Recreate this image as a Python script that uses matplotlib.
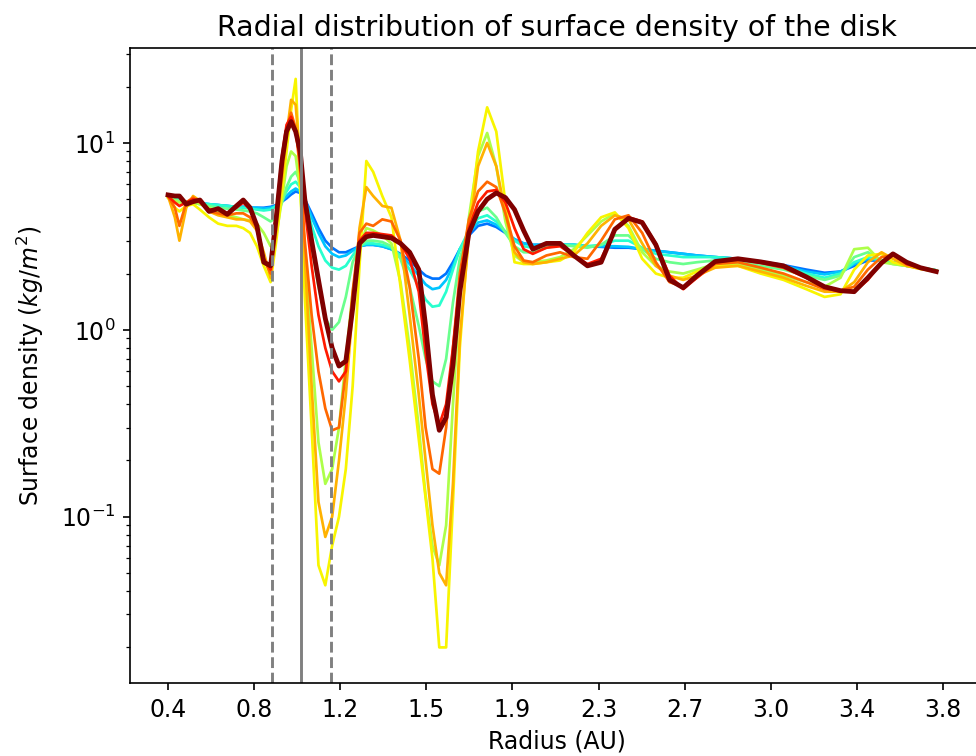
import numpy as np
import matplotlib.pyplot as plt
from matplotlib import cm

plt.rcParams['font.size'] = 11.3

# Радиусы (а.е.)
r_au = [0.40, 0.43, 0.45, 0.48, 0.51, 0.54, 0.58, 0.62, 0.66, 0.70,
        0.73, 0.76, 0.79, 0.82, 0.85, 0.875, 0.90, 0.92, 0.94, 0.96,
        0.98, 1.00, 1.03, 1.06, 1.09, 1.12, 1.15, 1.18, 1.21, 1.24,
        1.27, 1.30, 1.34, 1.38, 1.42, 1.46, 1.50, 1.53, 1.56, 1.59,
        1.62, 1.65, 1.68, 1.72, 1.76, 1.80, 1.84, 1.88, 1.92, 1.96,
        2.00, 2.06, 2.12, 2.18, 2.24, 2.30, 2.36, 2.42, 2.48, 2.54,
        2.60, 2.66, 2.72, 2.80, 2.90, 3.00, 3.10, 3.20, 3.28, 3.35,
        3.41, 3.47, 3.53, 3.58, 3.64, 3.70, 3.77]

# Поверхностная плотность для каждого снимка (кг/м^2)
sigma_1 = [5.2, 5.0, 4.95, 4.85, 4.8, 4.75, 4.7, 4.65, 4.6, 4.55,
           4.55, 4.5, 4.5, 4.5, 4.55, 4.65, 4.85, 5.05, 5.3, 5.5,
           5.4, 5.0, 4.2, 3.5, 3.0, 2.75, 2.6, 2.6, 2.7, 2.8,
           2.85, 2.85, 2.8, 2.7, 2.55, 2.35, 2.1, 1.95, 1.88, 1.88,
           2.0, 2.3, 2.7, 3.2, 3.6, 3.7, 3.55, 3.3, 3.05, 2.9,
           2.85, 2.85, 2.85, 2.85, 2.8, 2.78, 2.75, 2.75, 2.7, 2.65,
           2.6, 2.55, 2.5, 2.45, 2.4, 2.32, 2.22, 2.1, 2.02, 2.05,
           2.2, 2.35, 2.35, 2.3, 2.22, 2.15, 2.08]
sigma_2 = [5.2, 5.0, 4.95, 4.85, 4.8, 4.75, 4.7, 4.65, 4.6, 4.55,
           4.55, 4.5, 4.5, 4.45, 4.5, 4.6, 4.9, 5.2, 5.5, 5.7,
           5.5, 5.0, 4.0, 3.3, 2.8, 2.55, 2.45, 2.5, 2.65, 2.8,
           2.85, 2.85, 2.8, 2.7, 2.5, 2.25, 1.95, 1.75, 1.65, 1.68,
           1.85, 2.2, 2.7, 3.3, 3.75, 3.85, 3.65, 3.35, 3.05, 2.9,
           2.85, 2.85, 2.85, 2.85, 2.8, 2.8, 2.8, 2.78, 2.7, 2.65,
           2.6, 2.55, 2.5, 2.45, 2.4, 2.32, 2.2, 2.05, 1.98, 2.05,
           2.25, 2.4, 2.35, 2.28, 2.2, 2.15, 2.08]
sigma_3 = [5.2, 5.0, 4.95, 4.85, 4.8, 4.75, 4.7, 4.65, 4.6, 4.55,
           4.5, 4.45, 4.4, 4.35, 4.4, 4.6, 5.0, 5.5, 6.0, 6.2,
           5.8, 5.0, 3.6, 2.8, 2.35, 2.15, 2.1, 2.2, 2.5, 2.8,
           2.9, 2.9, 2.85, 2.75, 2.5, 2.1, 1.7, 1.45, 1.33, 1.35,
           1.6, 2.1, 2.7, 3.4, 3.95, 4.1, 3.8, 3.35, 3.0, 2.8,
           2.75, 2.8, 2.85, 2.85, 2.8, 2.85, 3.0, 3.0, 2.75, 2.55,
           2.5, 2.45, 2.45, 2.45, 2.4, 2.3, 2.18, 2.0, 1.9, 2.0,
           2.3, 2.45, 2.35, 2.28, 2.2, 2.15, 2.08]
sigma_4 = [5.2, 5.0, 4.9, 4.85, 4.8, 4.7, 4.6, 4.5, 4.45, 4.4,
           4.35, 4.3, 4.2, 4.0, 3.8, 4.0, 4.8, 5.8, 6.6, 7.0,
           6.2, 4.8, 2.8, 1.7, 1.15, 1.0, 1.1, 1.5, 2.3, 2.8,
           3.0, 3.0, 2.95, 2.8, 2.4, 1.7, 1.05, 0.7, 0.53, 0.5,
           0.7, 1.4, 2.4, 3.5, 4.3, 4.5, 4.0, 3.3, 2.8, 2.6,
           2.6, 2.75, 2.85, 2.8, 2.75, 2.85, 3.2, 3.2, 2.7, 2.4,
           2.3, 2.25, 2.3, 2.35, 2.3, 2.2, 2.1, 1.95, 1.85, 1.95,
           2.45, 2.6, 2.35, 2.25, 2.2, 2.15, 2.08]
sigma_5 = [5.1, 4.9, 4.8, 4.8, 4.8, 4.7, 4.5, 4.3, 4.1, 4.0,
           3.9, 3.85, 3.7, 3.3, 2.8, 3.2, 5.0, 7.5, 9.0, 8.5,
           5.5, 2.5, 0.8, 0.25, 0.15, 0.18, 0.3, 0.7, 1.6, 2.8,
           3.5, 3.4, 3.2, 2.9, 1.8, 0.8, 0.3, 0.13, 0.07, 0.055,
           0.09, 0.4, 1.5, 4.0, 8.5, 11.3, 7.5, 3.8, 2.5, 2.3,
           2.3, 2.35, 2.45, 2.7, 3.2, 3.8, 4.2, 3.6, 2.6, 2.2,
           2.05, 2.0, 2.1, 2.25, 2.25, 2.1, 1.95, 1.8, 1.7, 1.9,
           2.7, 2.75, 2.3, 2.25, 2.2, 2.15, 2.08]
sigma_6 = [5.1, 4.5, 4.3, 4.6, 4.7, 4.4, 4.0, 3.7, 3.6, 3.6,
           3.5, 3.3, 2.8, 2.2, 1.8, 3.0, 5.5, 9.0, 15.0, 22.0,
           6.0, 1.5, 0.3, 0.055, 0.043, 0.07, 0.1, 0.18, 0.5, 2.2,
           8.0, 7.0, 5.2, 4.0, 1.7, 0.69, 0.26, 0.126, 0.06, 0.02,
           0.02, 0.12, 0.8, 3.5, 9.0, 15.5, 11.5, 4.8, 2.3, 2.25,
           2.25, 2.3, 2.35, 2.6, 3.3, 4.0, 4.25, 3.5, 2.4, 2.0,
           1.9, 1.9, 2.05, 2.2, 2.2, 2.0, 1.85, 1.65, 1.5, 1.55,
           2.1, 2.5, 2.55, 2.3, 2.2, 2.12, 2.05]
sigma_7 = [5.2, 4.0, 3.0, 4.5, 5.2, 4.9, 4.3, 4.1, 4.0, 3.9,
           3.9, 3.8, 3.4, 2.6, 1.9, 3.4, 6.5, 11.0, 17.0, 16.0,
           8.0, 2.5, 0.5, 0.12, 0.078, 0.1, 0.2, 0.45, 1.3, 3.5,
           5.8, 5.2, 4.6, 4.5, 3.0, 1.2, 0.45, 0.2, 0.09, 0.05,
           0.043, 0.15, 0.9, 3.2, 7.5, 10.0, 7.5, 4.2, 2.6, 2.3,
           2.25, 2.3, 2.4, 2.5, 2.9, 3.6, 4.1, 3.9, 2.9, 2.2,
           1.95, 1.85, 1.95, 2.15, 2.2, 2.05, 1.9, 1.72, 1.6, 1.6,
           1.8, 2.3, 2.6, 2.4, 2.2, 2.12, 2.05]
sigma_8 = [5.2, 4.5, 3.6, 4.8, 5.1, 4.8, 4.3, 4.2, 4.1, 4.2,
           4.2, 4.0, 3.5, 2.4, 2.0, 3.8, 7.5, 12.0, 14.5, 12.0,
           7.0, 3.0, 1.2, 0.6, 0.38, 0.29, 0.3, 0.6, 1.6, 3.3,
           3.7, 3.6, 3.9, 3.8, 3.0, 1.7, 0.7, 0.3, 0.18, 0.17,
           0.3, 0.8, 2.0, 3.9, 5.5, 6.2, 5.8, 4.2, 2.8, 2.35,
           2.3, 2.5, 2.6, 2.45, 2.4, 3.0, 3.9, 4.1, 3.3, 2.3,
           1.8, 1.7, 1.9, 2.25, 2.3, 2.15, 2.0, 1.8, 1.65, 1.62,
           1.7, 2.1, 2.45, 2.5, 2.25, 2.15, 2.05]
sigma_9 = [5.2, 4.8, 4.6, 4.8, 5.0, 4.9, 4.4, 4.4, 4.2, 4.5,
           4.8, 4.4, 3.6, 2.4, 2.1, 4.2, 8.5, 12.5, 13.8, 11.5,
           8.0, 4.5, 2.2, 1.2, 0.8, 0.6, 0.53, 0.6, 1.3, 3.0,
           3.3, 3.3, 3.25, 3.2, 2.9, 2.4, 1.6, 0.75, 0.4, 0.31,
           0.4, 0.8, 1.8, 3.5, 4.8, 5.5, 5.6, 4.8, 3.5, 2.7,
           2.55, 2.75, 2.8, 2.5, 2.25, 2.4, 3.4, 4.0, 3.8, 2.9,
           1.95, 1.65, 1.9, 2.3, 2.38, 2.28, 2.15, 1.9, 1.68, 1.6,
           1.6, 1.85, 2.3, 2.55, 2.25, 2.15, 2.05]
sigma_10 = [5.27, 5.2, 5.2, 4.7, 4.85, 4.95, 4.3, 4.45, 4.15, 4.6,
            4.95, 4.5, 3.6, 2.3, 2.2, 4.0, 8.0, 11.5, 13.0, 11.5,
            9.0, 5.0, 3.0, 1.85, 1.15, 0.8, 0.64, 0.68, 1.3, 2.9,
            3.15, 3.2, 3.15, 3.1, 2.9, 2.6, 2.1, 1.05, 0.45, 0.29,
            0.34, 0.65, 1.6, 3.3, 4.3, 5.0, 5.4, 5.1, 4.4, 3.4,
            2.7, 2.9, 2.9, 2.5, 2.2, 2.3, 3.45, 3.95, 3.75, 2.85,
            1.85, 1.68, 1.95, 2.32, 2.4, 2.31, 2.2, 1.92, 1.7, 1.62,
            1.6, 1.9, 2.28, 2.55, 2.3, 2.15, 2.05]

snapshots = [sigma_1, sigma_2, sigma_3, sigma_4, sigma_5,
             sigma_6, sigma_7, sigma_8, sigma_9, sigma_10]
cmap_pos = [0.24, 0.32, 0.40, 0.48, 0.56, 0.65, 0.72, 0.80, 0.88, 1.0]

# Положение планеты и границы зоны (а.е.)
r_planet = 0.985
r_zone = [0.855, 1.115]

xtick_pos = np.linspace(0.4, 3.8, 10)
xtick_labels = ['0.4', '0.8', '1.2', '1.5', '1.9', '2.3', '2.7', '3.0', '3.4', '3.8']

fig = plt.figure(figsize=(976 / 150, 756 / 150), dpi=150)
ax = fig.add_axes([130 / 976, 73 / 756, 853 / 976, 635 / 756])

for sig, c in zip(snapshots, cmap_pos):
    lw = 2.3 if c == 1.0 else 1.3
    ax.plot(r_au, sig, color=cm.jet(c), lw=lw)

ax.axvline(r_planet, color='gray', lw=1.4)
for rz in r_zone:
    ax.axvline(rz, color='gray', lw=1.4, ls='--')

ax.set_yscale('log')
ax.set_xlim(0.2333, 3.975)
ax.set_ylim(0.0129, 32.2)
ax.set_xticks(xtick_pos)
ax.set_xticklabels(xtick_labels)
ax.set_xlabel('Radius (AU)')
ax.set_ylabel('Surface density ($kg/m^2$)', labelpad=7)
ax.set_title('Radial distribution of surface density of the disk', fontsize=13.6)

fig.savefig('out.png', dpi=150)
